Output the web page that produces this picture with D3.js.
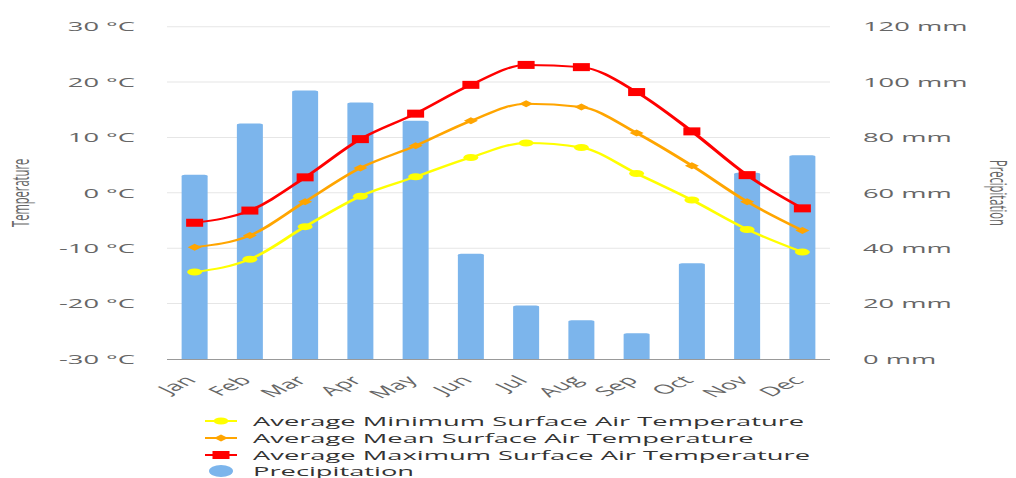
<!DOCTYPE html>
<html><head><meta charset="utf-8">
<script src="https://cdn.jsdelivr.net/npm/d3@7"></script>
<style>
html,body{margin:0;padding:0;background:#fff;}
svg{display:block;}
text{font-family:"Open Sans",sans-serif;}
</style></head>
<body><div id="chart"></div>
<script>
const months = ["Jan","Feb","Mar","Apr","May","Jun","Jul","Aug","Sep","Oct","Nov","Dec"];
const precipitation = [66.5,85,97,92.6,86,38,19.3,14,9.3,34.6,67.3,73.6];
const tMin = [-14.3,-12.0,-6.1,-0.6,2.9,6.4,9.0,8.2,3.5,-1.3,-6.6,-10.7];
const tMean = [-9.8,-7.7,-1.6,4.5,8.5,13.0,16.1,15.5,10.8,4.9,-1.6,-6.8];
const tMax = [-5.4,-3.2,2.8,9.7,14.3,19.5,23.1,22.7,18.2,11.1,3.2,-2.8];
const tempTicks = [-30,-20,-10,0,10,20,30];
const precTicks = [0,20,40,60,80,100,120];
const legendNames = ["Average Minimum Surface Air Temperature","Average Mean Surface Air Temperature","Average Maximum Surface Air Temperature","Precipitation"];

const W = 1016, H = 478, S = 2.1; // horizontal stretch of the picture
const W0 = W / S;
const X = px => px / S;

const svg = d3.select("#chart").append("svg")
  .attr("width", W).attr("height", H)
  .attr("viewBox", `0 0 ${W0} ${H}`)
  .attr("preserveAspectRatio", "none");

const plot = {x0: X(167), x1: X(830), y0: 26.7, y1: 359};
const x = d3.scaleBand().domain(months).range([plot.x0, plot.x1]);
const yT = d3.scaleLinear().domain([-30,30]).range([plot.y1, plot.y0]);
const yP = d3.scaleLinear().domain([0,120]).range([plot.y1, plot.y0]);

// grid
svg.append("g").selectAll("line").data(tempTicks.filter(d=>d>-30)).join("line")
  .attr("x1", plot.x0).attr("x2", plot.x1)
  .attr("y1", d=>yT(d)).attr("y2", d=>yT(d))
  .attr("stroke", "#e6e6e6").attr("stroke-width", 1);

// left axis labels
const leftAxis = svg.append("g").attr("transform", `translate(${X(135)},0)`)
  .call(d3.axisLeft(yT).tickValues(tempTicks).tickSize(0).tickPadding(0).tickFormat(d => d + " °C"));
leftAxis.select(".domain").remove();
leftAxis.selectAll("text").attr("fill","#666").attr("font-size",13).attr("font-family","Open Sans, sans-serif");

const rightAxis = svg.append("g").attr("transform", `translate(${X(863)},0)`)
  .call(d3.axisRight(yP).tickValues(precTicks).tickSize(0).tickPadding(0).tickFormat(d => d + " mm"));
rightAxis.select(".domain").remove();
rightAxis.selectAll("text").attr("fill","#666").attr("font-size",13).attr("font-family","Open Sans, sans-serif");

// axis titles
svg.append("text").attr("transform", `translate(${X(29)},${(plot.y0+plot.y1)/2}) rotate(-90) scale(0.97,1)`)
  .attr("text-anchor","middle").attr("fill","#666").attr("font-size",11.5).text("Temperature");
svg.append("text").attr("transform", `translate(${X(990)},${(plot.y0+plot.y1)/2}) rotate(90) scale(0.97,1)`)
  .attr("text-anchor","middle").attr("fill","#666").attr("font-size",11.5).text("Precipitation");

// bars
const bw = X(26);
svg.append("g").selectAll("path").data(precipitation).join("path")
  .attr("d", (d,i) => {
    const cx = x(months[i]) + x.bandwidth()/2;
    const x0 = cx - bw/2, x1 = cx + bw/2, yt = yP(d), yb = yP(0), r = 1.5, rx = X(3);
    return `M${x0},${yb}V${yt+r}Q${x0},${yt} ${x0+rx},${yt}H${x1-rx}Q${x1},${yt} ${x1},${yt+r}V${yb}Z`;
  })
  .attr("fill", "#7cb5ec");

// bottom axis line
svg.append("line").attr("x1", plot.x0).attr("x2", plot.x1)
  .attr("y1", plot.y1+0.5).attr("y2", plot.y1+0.5)
  .attr("stroke", "#999").attr("stroke-width", 1.2);

// x labels
const bottomAxis = svg.append("g")
  .call(d3.axisBottom(x).tickSize(0).tickPadding(0));
bottomAxis.select(".domain").remove();
bottomAxis.selectAll(".tick").attr("transform", null);
bottomAxis.selectAll("text")
  .attr("fill","#666").attr("font-size",13).attr("font-family","Open Sans, sans-serif")
  .attr("text-anchor","end").attr("dy","0.35em").attr("y", null)
  .attr("transform", d => `translate(${x(d) + x.bandwidth()/2 - X(4)},${378}) rotate(-45)`);

// lines
const cx = i => x(months[i]) + x.bandwidth()/2;
const series = [
  {data: tMin, color: "#ffff00", marker: "circle"},
  {data: tMean, color: "#ffa500", marker: "diamond"},
  {data: tMax, color: "#ff0000", marker: "square"}
];
const line = d3.line().x((d,i)=>cx(i)).y(d=>yT(d)).curve(d3.curveMonotoneX);

function drawMarker(g, type, color, px, py) {
  if (type === "circle") {
    g.append("ellipse").attr("cx", px).attr("cy", py).attr("rx", X(7.5)).attr("ry", 3.5).attr("fill", color);
  } else if (type === "diamond") {
    g.append("path").attr("d", `M${px},${py-3.5}L${px+X(7)},${py}L${px},${py+3.5}L${px-X(7)},${py}Z`).attr("fill", color);
  } else {
    g.append("rect").attr("x", px - X(8.5)).attr("y", py-4).attr("width", X(17)).attr("height", 8).attr("fill", color);
  }
}

series.forEach(s => {
  const g = svg.append("g");
  g.append("path").attr("d", line(s.data)).attr("fill","none").attr("stroke", s.color).attr("stroke-width", 2);
  s.data.forEach((d,i) => drawMarker(g, s.marker, s.color, cx(i), yT(d)));
});

// legend
const legendY = [421, 438, 455, 471];
const lg = svg.append("g");
legendNames.forEach((name, i) => {
  const y = legendY[i];
  if (i < 3) {
    lg.append("line").attr("x1", X(205)).attr("x2", X(237)).attr("y1", y).attr("y2", y)
      .attr("stroke", series[i].color).attr("stroke-width", 2);
    drawMarker(lg, series[i].marker, series[i].color, X(221), y);
  } else {
    lg.append("ellipse").attr("cx", X(221)).attr("cy", y).attr("rx", X(12)).attr("ry", 6).attr("fill", "#7cb5ec");
  }
  lg.append("text").attr("x", X(253)).attr("y", y).attr("dy","0.35em")
    .attr("fill","#333").attr("font-size",13).text(name);
});
</script>
</body></html>
